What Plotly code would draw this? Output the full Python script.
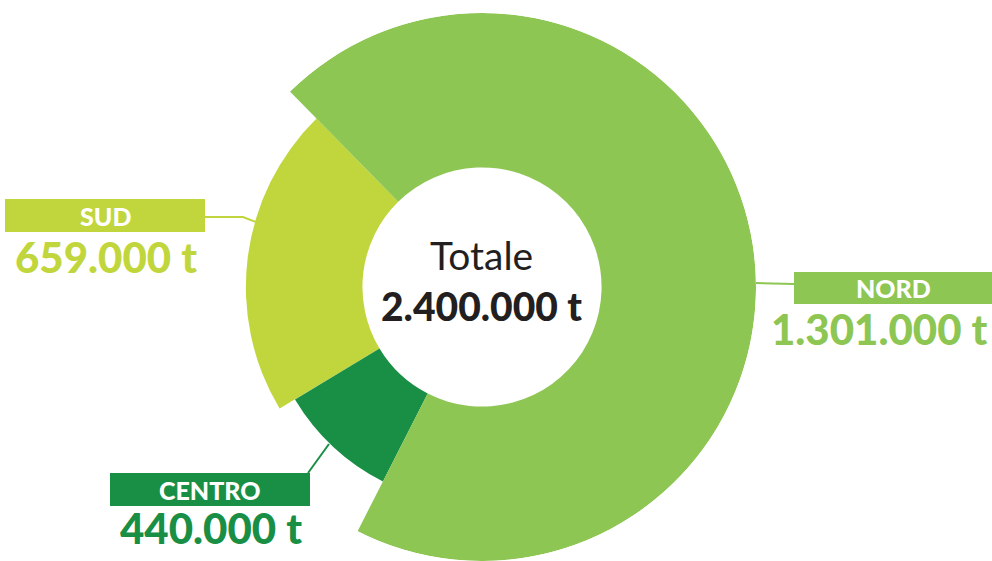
import plotly.graph_objects as go

# Waste collected per macro-area (tonnes)
regions = ["SUD", "CENTRO", "NORD"]
tonnes = [659000, 440000, 1301000]
colors = ["#C1D63C", "#198F45", "#8DC652"]

# Ring geometry (polar units ~ pixels): inner hole radius, outer radius per sector,
# sector sweeps in degrees, laid out counter-clockwise from START_ANGLE
HOLE_R = 120
outer_r = [237, 219, 275]
sweeps = [76.5, 32.0, 251.5]
START_ANGLE = 134.5

W, H = 992, 561


def fmt(v):
    return f"{v:,}".replace(",", ".") + " t"


def px(x, y):
    return x / W, 1 - y / H


centers = []
a = START_ANGLE
for s in sweeps:
    centers.append(a + s / 2)
    a += s

fig = go.Figure()
fig.add_trace(go.Barpolar(
    r=[R - HOLE_R for R in outer_r],
    base=[HOLE_R] * len(regions),
    theta=centers,
    width=sweeps,
    marker=dict(color=colors, line=dict(width=0)),
    text=[fmt(v) for v in tonnes],
    customdata=regions,
    hovertemplate="%{customdata}: %{text}<extra></extra>",
    showlegend=False,
))

fig.update_layout(
    width=W, height=H,
    margin=dict(l=0, r=0, t=0, b=0),
    paper_bgcolor="white",
    plot_bgcolor="white",
    polar=dict(
        domain=dict(x=[208 / W, 756 / W], y=[0, 548 / H]),
        bgcolor="rgba(0,0,0,0)",
        radialaxis=dict(visible=False, range=[0, 275]),
        angularaxis=dict(visible=False, direction="counterclockwise", rotation=0),
    ),
    font=dict(family="Lato"),
)

# Label boxes, connector lines and texts (value anchor: x, y, horizontal anchor)
boxes = {
    "SUD": dict(box=(5, 199, 205, 232), line=[(205, 217), (243, 217), (256, 222)],
                name=(105, 216), value=(106, 257, "center")),
    "CENTRO": dict(box=(110, 473, 310, 506), line=[(308, 473), (329, 444)],
                   name=(210, 490), value=(211, 528, "center")),
    "NORD": dict(box=(794, 272, 994, 304), line=[(756, 283), (794, 284)],
                 name=(893, 288), value=(989, 329, "right")),
}

shapes = []
annotations = []
for name, val, col in zip(regions, tonnes, colors):
    g = boxes[name]
    x0, y0, x1, y1 = g["box"]
    p0, p1 = px(x0, y0), px(x1, y1)
    shapes.append(dict(type="rect", xref="paper", yref="paper",
                       x0=p0[0], x1=p1[0], y0=p1[1], y1=p0[1],
                       fillcolor=col, line=dict(width=0), layer="above"))
    pts = [px(*p) for p in g["line"]]
    path = "M " + " L ".join(f"{x},{y}" for x, y in pts)
    shapes.append(dict(type="path", xref="paper", yref="paper", path=path,
                       line=dict(color=col, width=2), layer="below"))
    nx, ny = px(*g["name"])
    annotations.append(dict(x=nx, y=ny, xref="paper", yref="paper", text=name,
                            showarrow=False, xanchor="center", yanchor="middle",
                            font=dict(family="Lato", size=25, weight=900, color="white")))
    vxp, vyp, anchor = g["value"]
    vx, vy = px(vxp, vyp)
    annotations.append(dict(x=vx, y=vy, xref="paper", yref="paper", text=fmt(val),
                            showarrow=False, xanchor=anchor, yanchor="middle",
                            font=dict(family="Lato", size=42, weight=900, color=col)))

tx, ty = px(481, 255)
annotations.append(dict(x=tx, y=ty, xref="paper", yref="paper", text="Totale",
                        showarrow=False, xanchor="center", yanchor="middle",
                        font=dict(family="Lato", size=39, color="#231F20")))
tx, ty = px(481, 306)
annotations.append(dict(x=tx, y=ty, xref="paper", yref="paper", text=fmt(sum(tonnes)),
                        showarrow=False, xanchor="center", yanchor="middle",
                        font=dict(family="Lato", size=39, weight=900, color="#231F20")))

fig.update_layout(shapes=shapes, annotations=annotations)
fig.write_html("out.html")
